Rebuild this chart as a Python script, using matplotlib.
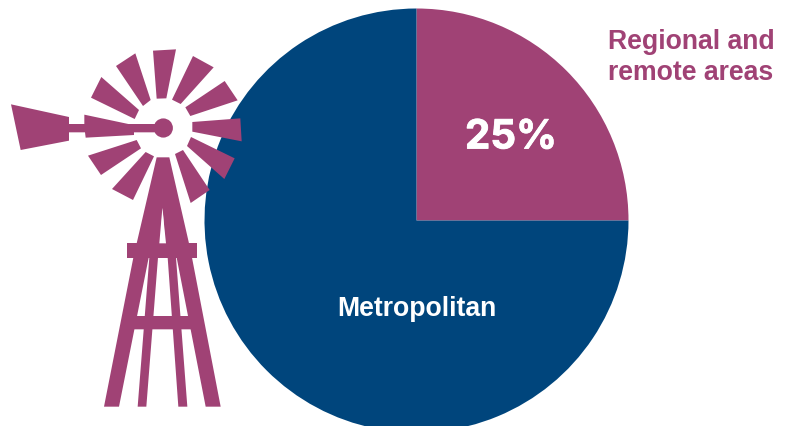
import matplotlib
matplotlib.use("Agg")
import matplotlib.pyplot as plt
import matplotlib.patheffects as pe
from matplotlib.patches import Polygon, Circle

# Share of the population by area type
areas = ["Regional and\nremote areas", "Metropolitan"]
shares = [25, 75]

PLUM = "#A04275"
NAVY = "#00457C"
W, H = 785, 427
TOP = H - 1  # y of the canvas' top row as used for outlines and labels

fig = plt.figure(figsize=(W / 100, H / 100), dpi=100)
ax = fig.add_axes([0, 0, 1, 1])

ax.pie(shares, colors=[PLUM, NAVY], startangle=90, counterclock=False,
       center=(416.5, TOP - 220.5), radius=212, frame=True,
       wedgeprops={"linewidth": 0})


def top_down(points):
    """Flip y so outlines can be given from the top edge of the canvas."""
    return [(x, TOP - y) for x, y in points]


def head(points):
    """Convert rotor outlines given at triple scale to canvas units."""
    return [(x / 3, 30 + y / 3) for x, y in points]


def tower(points):
    """Convert tower outlines given at triple scale to canvas units."""
    return [(90 + x / 3, 200 + y / 3) for x, y in points]


blades = [
    [(459, 62), (528, 58), (499, 205), (470, 206)],
    [(579, 78), (641, 112), (542, 222), (516, 209)],
    [(674, 153), (713, 211), (571, 258), (556, 232)],
    [(577, 276), (721, 265), (725, 334), (577, 305)],
    [(573, 321), (704, 385), (673, 447), (561, 348)],
    [(549, 360), (629, 480), (572, 519), (525, 372)],
    [(437, 366), (462, 379), (399, 510), (336, 477)],
    [(410, 330), (423, 355), (303, 435), (264, 377)],
    [(304, 141), (417, 240), (404, 267), (273, 203)],
    [(406, 70), (452, 210), (429, 228), (348, 108)],
]
tail = [(33, 223), (207, 261), (207, 282), (253, 282), (253, 254), (385, 282),
        (470, 282), (470, 307), (402, 307), (402, 315), (257, 323), (255, 307),
        (207, 307), (207, 332), (62, 360)]
mast = [(470, 382), (508, 382), (567, 640), (495, 640), (488, 533), (481, 640), (410, 640)]

frame = [
    [(112, 130), (320, 130), (320, 173), (112, 173)],
    [(130, 173), (176, 173), (87, 620), (42, 620)],
    [(178, 173), (204, 173), (169, 620), (143, 620)],
    [(233, 173), (258, 173), (292, 620), (265, 620)],
    [(260, 173), (306, 173), (392, 620), (347, 620)],
    [(100, 348), (335, 348), (342, 388), (92, 388)],
]

for outline in blades + [tail]:
    ax.add_patch(Polygon(top_down(head(outline)), closed=True, fc=PLUM, ec="none"))
ax.add_patch(Polygon(top_down(head(mast)), closed=True, fc=PLUM, ec="none"))
for outline in frame:
    ax.add_patch(Polygon(top_down(tower(outline)), closed=True, fc=PLUM, ec="none"))
# The notch under the head opens down to the upper crossbar
ax.add_patch(Polygon(top_down(tower([(217, 25), (228, 130), (208, 130)])),
                     closed=True, fc="white", ec="none"))
ax.add_patch(Circle((163.3, TOP - 128), 9.6, fc=PLUM, ec="none"))

ax.text(511, TOP - 138, f"{shares[0]}%", color="white", fontsize=29,
        fontfamily="Inter", fontweight="bold", ha="center", va="center",
        path_effects=[pe.withStroke(linewidth=0.6, foreground="white")])
ax.text(416.5, TOP - 308, areas[1], color="white", fontsize=19.2,
        fontfamily="Liberation Sans", fontweight="bold", ha="center", va="center")
ax.text(607.5, TOP - 56.5, areas[0], color=PLUM, fontsize=19.2,
        fontfamily="Liberation Sans", fontweight="bold", ha="left", va="center",
        linespacing=1.25)

ax.set_xlim(0, W)
ax.set_ylim(0, H)
ax.set_aspect("auto")
ax.axis("off")

fig.savefig("out.png", dpi=100, facecolor="white")
